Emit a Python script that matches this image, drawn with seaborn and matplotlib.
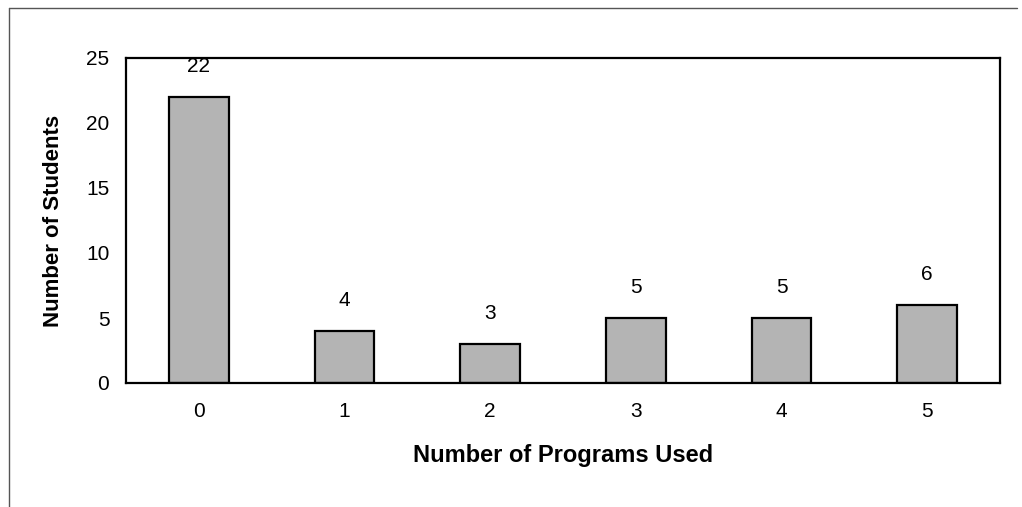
import matplotlib
matplotlib.use('Agg')
import matplotlib.pyplot as plt
import seaborn as sns
import pandas as pd
from matplotlib.lines import Line2D

programs = ['0', '1', '2', '3', '4', '5']
students = [22, 4, 3, 5, 5, 6]
yticks = [0, 5, 10, 15, 20, 25]

sns.set_style('white')
plt.rcParams['font.family'] = ['Liberation Sans', 'DejaVu Sans']
plt.rcParams['text.color'] = 'black'
plt.rcParams['axes.labelcolor'] = 'black'
plt.rcParams['xtick.color'] = 'black'
plt.rcParams['ytick.color'] = 'black'

fig = plt.figure(figsize=(10.22, 5.07), dpi=100)
ax = fig.add_axes([126 / 1022, 1 - 383 / 507, (1000 - 126) / 1022, (383 - 58) / 507])

df = pd.DataFrame({'programs': programs, 'students': students})
sns.barplot(data=df, x='programs', y='students', color='#b4b4b4', saturation=1,
            width=0.41, edgecolor='black', linewidth=1.6, ax=ax)

ax.set_xlim(-0.5, 5.5)
ax.set_ylim(0, 25)
ax.set_yticks(yticks)
ax.set_xticks(range(len(programs)))
ax.set_xticklabels(programs)
ax.set_xticks([i + 0.5 for i in range(len(programs) - 1)], minor=True)
ax.tick_params(axis='x', which='major', length=0, labelsize=15, pad=14)
ax.tick_params(axis='x', which='minor', direction='inout', length=8, width=1, color='black')
ax.tick_params(axis='y', direction='inout', length=8, width=1, color='black', labelsize=15, pad=8)

for s in ax.spines.values():
    s.set_visible(True)
    s.set_color('black')
    s.set_linewidth(1.6)

ax.set_xlabel('Number of Programs Used', fontsize=17, fontweight='bold', labelpad=16)
ax.set_ylabel('Number of Students', fontsize=16, fontweight='bold', labelpad=16)

for p, v in zip(ax.patches, students):
    ax.annotate(str(v), (p.get_x() + p.get_width() / 2, v), xytext=(0, 22),
                textcoords='offset points', ha='center', va='center', fontsize=15,
                color='black', annotation_clip=False)

fig.add_artist(Line2D([9 / 1022, 9 / 1022], [0, 1 - 8 / 507], color='#555555', lw=1))
fig.add_artist(Line2D([9 / 1022, 1017 / 1022], [1 - 8 / 507, 1 - 8 / 507], color='#555555', lw=1))

fig.savefig('out.png', dpi=100)
